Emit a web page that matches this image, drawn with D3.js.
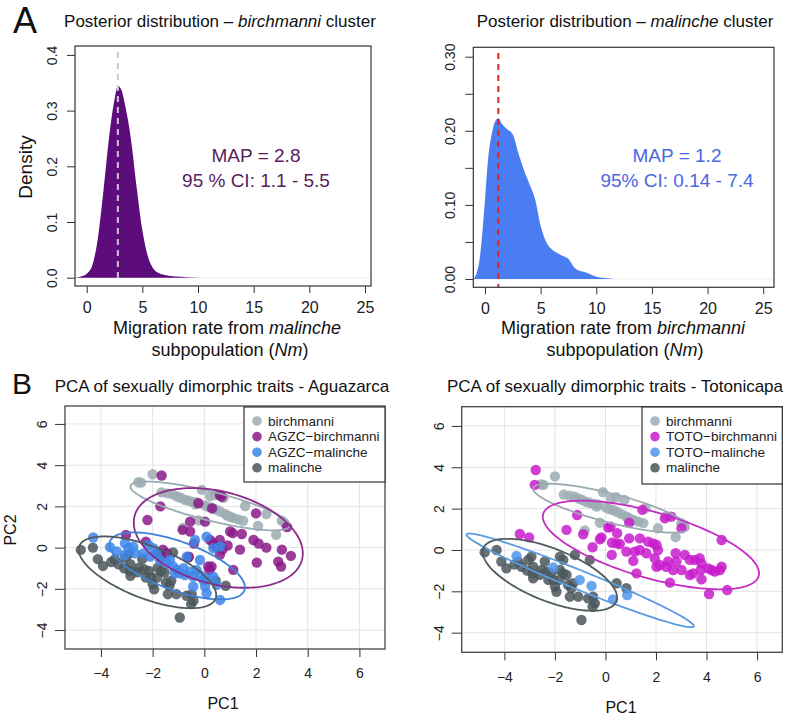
<!DOCTYPE html>
<html>
<head>
<meta charset="utf-8">
<script src="https://cdn.jsdelivr.net/npm/d3@7"></script>
<style>
  body { margin: 0; background: #fff; }
  svg { display: block; font-family: "Liberation Sans", Arial, Helvetica, sans-serif; }
</style>
</head>
<body>
<svg id="fig" width="793" height="715"></svg>
<script>
// posterior densities
var densBirchX = [-1, -0.5, 0, 0.5, 1, 1.5, 2, 2.5, 2.8, 3.1, 3.5, 4, 4.5, 5, 5.5, 6, 6.5, 7, 8, 9, 10.2];
var densBirchY = [0, 0.002, 0.007, 0.022, 0.07, 0.155, 0.25, 0.32, 0.344, 0.338, 0.305, 0.245, 0.16, 0.085, 0.038, 0.016, 0.008, 0.005, 0.002, 0.001, 0];
var densMalX = [-1, -0.75, -0.5, -0.25, 0, 0.3, 0.6, 1.0, 1.2, 1.5, 2, 2.5, 3, 3.5, 4, 4.5, 5, 5.5, 6, 6.5, 7, 7.5, 8, 8.5, 9, 9.5, 10, 11, 11.5];
var densMalY = [0, 0.008, 0.025, 0.06, 0.107, 0.165, 0.195, 0.215, 0.217, 0.21, 0.202, 0.195, 0.17, 0.147, 0.128, 0.108, 0.072, 0.05, 0.04, 0.035, 0.031, 0.027, 0.016, 0.011, 0.009, 0.006, 0.003, 0.001, 0];
var mapBirch = 2.8, mapMal = 1.2;

// PCA scores
var birchmanni = [[-2.0,3.56],[-2.55,3.17],[-2.45,3.15],[-1.65,2.68],[-1.42,2.63],[-1.22,2.58],[-1.05,2.48],[-0.92,2.42],[-0.75,2.32],[-0.6,2.27],[-0.45,2.22],[-0.3,2.2],[-0.1,2.8],[0.22,2.5],[0.42,2.55],[0.75,2.42],[0.02,2.05],[0.15,1.98],[0.3,1.93],[0.45,1.85],[0.62,1.74],[0.82,1.62],[1.0,1.5],[1.12,1.44],[1.3,1.37],[1.5,1.3],[1.58,2.02],[-0.22,1.32],[-0.82,0.95],[2.08,1.05],[2.4,1.63],[2.78,0.62],[3.0,1.3],[3.1,1.2],[-0.35,2.1],[0.9,1.55]];
var malinche = [[-4.78,-0.11],[-4.31,0.0],[-4.12,-0.56],[-3.92,-0.89],[-3.46,-0.56],[-3.32,-0.81],[-3.06,-0.48],[-2.93,-0.32],[-2.86,-0.81],[-2.89,-1.13],[-2.86,-1.37],[-2.53,-0.97],[-2.4,-0.56],[-2.33,-1.05],[-2.14,-1.13],[-2.07,-1.45],[-2.0,-1.77],[-1.94,-2.02],[-1.8,-0.32],[-1.67,-0.48],[-1.8,-0.97],[-1.67,-1.13],[-1.83,-1.45],[-1.54,-1.21],[-1.48,-1.69],[-1.35,-1.85],[-1.28,-1.61],[-1.41,-2.26],[-1.08,-2.26],[-1.21,-0.24],[-0.62,-0.48],[-0.69,-2.34],[-0.49,-2.26],[-0.42,-2.58],[-0.51,-2.74],[-0.95,-3.39],[0.44,-1.61],[0.83,-1.85],[-2.26,-1.45],[-2.6,-1.2],[-3.6,-0.7],[-3.1,-1.0]];
var agzcBirch = [[-1.65,3.5],[-1.7,2.0],[-2.2,1.34],[-3.03,0.61],[-2.26,0.29],[-0.55,1.26],[-0.55,0.78],[-0.84,0.86],[-0.23,2.15],[0.03,1.26],[0.3,1.9],[0.6,2.55],[0.67,2.47],[1.0,0.78],[1.1,0.7],[1.45,0.66],[2.0,1.66],[1.9,0.37],[2.1,0.2],[2.4,0.0],[3.2,1.0],[3.0,-0.1],[3.35,-0.4],[2.86,-0.68],[2.97,-0.92],[2.03,-0.73],[1.38,-0.1],[0.9,0.1],[0.6,0.37],[0.45,0.05],[0.6,-0.35],[0.35,0.2],[0.22,0.37],[1.12,-1.08],[0.15,-0.92],[0.28,-0.92],[-1.6,-0.1],[-1.45,-0.27],[-0.6,-0.44],[-0.4,0.2],[0.7,-0.1],[0.2,-1.1]];
var agzcMal = [[-4.3,0.49],[-3.65,0.02],[-3.39,-0.19],[-3.07,0.21],[-2.94,-0.03],[-2.75,0.05],[-2.68,-0.28],[-3.07,-0.36],[-2.36,-0.28],[-2.17,0.13],[-1.97,-0.03],[-2.1,-0.44],[-1.85,-0.28],[-1.72,-0.6],[-1.46,-0.76],[-1.2,-0.92],[-1.07,-1.08],[-0.94,-1.25],[-0.81,-1.0],[-0.75,-1.33],[-0.55,-1.17],[-0.43,-1.41],[-0.3,-1.08],[-0.17,-1.33],[-0.04,-1.57],[0.09,-1.49],[0.35,-1.41],[0.48,-1.81],[0.03,-1.89],[-0.43,-1.89],[0.09,-2.22],[0.61,-2.54],[-0.36,0.37],[0.09,0.53],[0.35,-0.03],[0.61,0.05],[-0.17,-0.6],[-0.68,-0.44],[-1.33,-0.6],[-1.14,-1.25]];
var totoBirch = [[-2.76,3.87],[-2.8,3.15],[-3.39,0.77],[-3.02,0.61],[-1.12,1.69],[-1.54,0.97],[-0.88,0.76],[-0.22,0.52],[-0.16,0.61],[-0.51,0.13],[0.11,1.08],[0.2,1.13],[0.26,0.35],[0.44,0.32],[0.57,0.29],[0.46,0.81],[0.94,0.56],[0.94,1.32],[0.25,-0.24],[0.83,-0.08],[1.16,-0.08],[1.36,0.56],[1.46,1.94],[1.69,0.4],[1.89,0.32],[2.02,0.24],[1.1,-0.53],[1.23,-1.13],[1.95,-0.4],[2.02,-0.81],[2.15,-0.73],[2.08,0.0],[2.35,1.53],[2.61,1.61],[2.48,-0.56],[2.41,-0.81],[2.68,-0.97],[2.81,-0.56],[2.55,-1.58],[2.78,-0.16],[3.14,-0.24],[3.01,1.05],[3.01,-0.97],[3.34,-0.48],[3.54,-0.48],[3.47,-1.13],[3.34,-1.21],[3.73,-0.4],[3.8,-0.65],[3.77,-0.97],[3.8,-1.42],[4.06,-0.89],[4.2,-0.97],[4.33,-1.05],[4.53,-0.97],[4.6,-0.81],[4.1,-2.13],[4.82,-1.94],[4.6,0.48],[1.36,0.0],[1.62,-0.16]];
var totoMal = [[-3.52,-0.29],[-2.07,-0.85],[-1.02,-1.45],[-0.55,-1.74],[0.3,-2.39],[0.86,-2.18]];

// ellipses: centre, right-most point, half vertical chord through centre
var ellBirch = [0.22, 2.02, 3.3, 1.08, 0.72];
var ellMal = [-2.2, -1.2, 0.46, -2.3, 1.35];
var ellAgzcBirch = [0.54, 0.47, 3.81, -0.28, 2.3];
var ellAgzcMal = [-1.05, -0.89, 1.57, -1.93, 1.25];
var ellTotoBirch = [1.8, 0.24, 6.08, -1.13, 1.65];
var ellTotoMal = [-1.0, -1.47, 3.5, -3.68, 0.5];

var pcaTicks = [-4, -2, 0, 2, 4, 6];

var svg = d3.select('#fig');

function txt(x, y, size, s, anchor) {
    return svg.append('text').attr('x', x).attr('y', y)
        .attr('font-size', size).attr('text-anchor', anchor || 'middle')
        .attr('fill', '#111').text(s);
}

function mixed(x, y, size, parts, anchor, color) {
    var t = svg.append('text').attr('x', x).attr('y', y)
        .attr('font-size', size).attr('text-anchor', anchor || 'middle')
        .attr('fill', color || '#111');
    parts.forEach(function (p) {
        t.append('tspan').attr('font-style', p[1] ? 'italic' : null).text(p[0]);
    });
    return t;
}

function styleY(g, off, size) {
    g.select('.domain').remove();
    g.selectAll('line').attr('stroke', '#333');
    g.selectAll('text')
        .attr('x', 0).attr('dy', null)
        .attr('text-anchor', 'middle')
        .attr('dominant-baseline', 'central')
        .attr('transform', 'translate(' + (-off) + ',0) rotate(-90)')
        .attr('font-size', size).attr('fill', '#222');
}

function styleX(g, yOff, size) {
    g.select('.domain').remove();
    g.selectAll('line').attr('stroke', '#333');
    g.selectAll('text').attr('y', yOff).attr('dy', null)
        .attr('dominant-baseline', 'central')
        .attr('font-size', size).attr('fill', '#222');
}

// ---------- panel A ----------
function densityPanel(o) {
    var x = d3.scaleLinear().domain(o.xd).range([o.l, o.r]),
        y = d3.scaleLinear().domain(o.yd).range([o.b, o.t]);

    var pts = o.dx.map(function (d, i) { return [d, o.dy[i]]; });

    svg.append('line')
        .attr('x1', x(o.xd[0])).attr('x2', x(o.xd[1]))
        .attr('y1', y(0)).attr('y2', y(0))
        .attr('stroke', '#eeeeee').attr('stroke-width', 1);

    svg.append('path')
        .datum(pts)
        .attr('fill', o.fill)
        .attr('d', d3.area().curve(d3.curveMonotoneX)
            .x(function (d) { return x(d[0]); })
            .y0(y(0))
            .y1(function (d) { return y(d[1]); }));

    svg.append('line')
        .attr('x1', x(o.map)).attr('x2', x(o.map))
        .attr('y1', o.dashTop).attr('y2', o.dashBot)
        .attr('stroke', o.dashColor).attr('stroke-width', 2)
        .attr('stroke-dasharray', '6,5');

    svg.append('rect')
        .attr('x', o.l).attr('y', o.t).attr('width', o.r - o.l).attr('height', o.b - o.t)
        .attr('fill', 'none').attr('stroke', '#333').attr('stroke-width', 1.2);

    svg.append('g').attr('transform', 'translate(0,' + o.b + ')')
        .call(d3.axisBottom(x).tickValues([0, 5, 10, 15, 20, 25]).tickSize(7))
        .call(styleX, 21, 16);

    svg.append('g').attr('transform', 'translate(' + o.l + ',0)')
        .call(d3.axisLeft(y).tickValues(o.yt).tickSize(8)
            .tickFormat(function (d) {
                return o.yl.indexOf(d) >= 0 ? d3.format(o.fmt)(d) : '';
            }))
        .call(styleY, 23, 14);

    o.notes.forEach(function (n, i) {
        txt(o.noteX, o.noteY + i * 25, 19, n).attr('fill', o.noteColor);
    });
}

densityPanel({
    l: 75, r: 371, t: 46, b: 286,
    xd: [-1.05, 25.54], yd: [-0.0149, 0.416],
    dx: densBirchX, dy: densBirchY, fill: '#5d0c7c',
    map: mapBirch, dashColor: '#c9c9c9', dashTop: 52, dashBot: 278,
    yt: [0, 0.1, 0.2, 0.3, 0.4], yl: [0, 0.1, 0.2, 0.3, 0.4], fmt: '.1f',
    notes: ['MAP = 2.8', '95 % CI: 1.1 - 5.5'], noteX: 256, noteY: 162, noteColor: '#5a1d5e'
});

densityPanel({
    l: 473.3, r: 774, t: 47.3, b: 287.3,
    xd: [-1.05, 25.97], yd: [-0.0112, 0.3127],
    dx: densMalX, dy: densMalY, fill: '#4a7cf2',
    map: mapMal, dashColor: '#d42828', dashTop: 53, dashBot: 287,
    yt: [0, 0.05, 0.1, 0.15, 0.2, 0.25, 0.3], yl: [0, 0.1, 0.2, 0.3], fmt: '.2f',
    notes: ['MAP = 1.2', '95% CI: 0.14 - 7.4'], noteX: 677, noteY: 162, noteColor: '#4a68e0'
});

txt(13, 33, 36, 'A', 'start');
mixed(220, 27, 17, [['Posterior distribution \u2013 '], ['birchmanni', true], [' cluster']]);
mixed(625, 27, 17, [['Posterior distribution \u2013 '], ['malinche', true], [' cluster']]);
txt(25, 167, 19, 'Density').attr('transform', 'rotate(-90,25,167)').attr('dominant-baseline', 'central');
mixed(227, 334, 18, [['Migration rate from '], ['malinche', true]]);
mixed(230, 356, 18, [['subpopulation ('], ['Nm', true], [')']]);
mixed(623, 334, 18, [['Migration rate from '], ['birchmanni', true]]);
mixed(625, 356, 18, [['subpopulation ('], ['Nm', true], [')']]);

// ---------- panel B ----------
var colors = {
    birch: '#9cadb3', mal: '#4b575b',
    agzcBirch: '#8a1a88', agzcMal: '#3d86ea',
    totoBirch: '#c81ccc', totoMal: '#4f96ec'
};
var ellColors = {
    birch: '#9aabb2', mal: '#4f5b5f',
    agzcBirch: '#8c2a8c', agzcMal: '#3f80d8',
    totoBirch: '#c42cc6', totoMal: '#5a9be2'
};

function pcaPanel(o) {
    var x = d3.scaleLinear().domain(o.xd).range([o.l, o.r]),
        y = d3.scaleLinear().domain(o.yd).range([o.b, o.t]);

    var grid = svg.append('g').attr('stroke', '#e4e4e4').attr('stroke-width', 1);
    pcaTicks.forEach(function (t) {
        grid.append('line').attr('x1', x(t)).attr('x2', x(t)).attr('y1', o.t).attr('y2', o.b);
        grid.append('line').attr('x1', o.l).attr('x2', o.r).attr('y1', y(t)).attr('y2', y(t));
    });

    var clip = 'clip' + o.id;
    svg.append('clipPath').attr('id', clip).append('rect')
        .attr('x', o.l).attr('y', o.t).attr('width', o.r - o.l).attr('height', o.b - o.t);
    var plot = svg.append('g').attr('clip-path', 'url(#' + clip + ')');

    o.groups.forEach(function (g) {
        plot.append('g').selectAll('circle').data(g.data).enter().append('circle')
            .attr('cx', function (d) { return x(d[0]); })
            .attr('cy', function (d) { return y(d[1]); })
            .attr('r', 5.2)
            .attr('fill', colors[g.key]).attr('fill-opacity', 0.85);
    });

    var line = d3.line().curve(d3.curveLinearClosed)
        .x(function (d) { return x(d[0]); })
        .y(function (d) { return y(d[1]); });
    o.ellipses.forEach(function (e) {
        var p = e.par, ring = d3.range(0, 2 * Math.PI, Math.PI / 90).map(function (t) {
            return [p[0] + (p[2] - p[0]) * Math.cos(t),
                    p[1] + (p[3] - p[1]) * Math.cos(t) + p[4] * Math.sin(t)];
        });
        plot.append('path').datum(ring).attr('d', line)
            .attr('fill', 'none').attr('stroke', ellColors[e.key]).attr('stroke-width', 1.8);
    });

    svg.append('rect')
        .attr('x', o.l).attr('y', o.t).attr('width', o.r - o.l).attr('height', o.b - o.t)
        .attr('fill', 'none').attr('stroke', '#444').attr('stroke-width', 1.3);

    svg.append('g').attr('transform', 'translate(0,' + o.b + ')')
        .call(d3.axisBottom(x).tickValues(pcaTicks).tickSize(8))
        .call(styleX, o.xlab, 14);
    svg.append('g').attr('transform', 'translate(' + o.l + ',0)')
        .call(d3.axisLeft(y).tickValues(pcaTicks).tickSize(10))
        .call(styleY, 23, 14);

    // legend
    var lg = svg.append('g');
    lg.append('rect').attr('x', o.lg[0]).attr('y', o.lg[1])
        .attr('width', o.r - o.lg[0]).attr('height', o.lg[2])
        .attr('fill', '#fff').attr('stroke', '#333').attr('stroke-width', 1.2);
    o.groups.slice().sort(function (a, b) { return a.order - b.order; }).forEach(function (g, i) {
        var yy = o.lg[1] + 14 + i * 15.6;
        lg.append('circle').attr('cx', o.lg[0] + 13).attr('cy', yy).attr('r', 4.8)
            .attr('fill', colors[g.key]).attr('fill-opacity', 0.85);
        lg.append('text').attr('x', o.lg[0] + 24).attr('y', yy)
            .attr('dominant-baseline', 'central').attr('font-size', 13.5)
            .attr('fill', '#222').text(g.name);
    });
}

pcaPanel({
    id: 'L', l: 65, r: 385, t: 406, b: 649,
    xd: [-5.39, 6.99], yd: [-4.92, 6.87], xlab: 24,
    groups: [
        { key: 'mal', name: 'malinche', data: malinche, order: 3 },
        { key: 'birch', name: 'birchmanni', data: birchmanni, order: 0 },
        { key: 'agzcBirch', name: 'AGZC\u2212birchmanni', data: agzcBirch, order: 1 },
        { key: 'agzcMal', name: 'AGZC\u2212malinche', data: agzcMal, order: 2 }
    ],
    ellipses: [
        { key: 'birch', par: ellBirch }, { key: 'agzcBirch', par: ellAgzcBirch },
        { key: 'agzcMal', par: ellAgzcMal }, { key: 'mal', par: ellMal }
    ],
    lg: [244, 407, 75]
});

pcaPanel({
    id: 'R', l: 461.7, r: 782.3, t: 406.7, b: 652.3,
    xd: [-5.69, 7.0], yd: [-4.95, 6.93], xlab: 25,
    groups: [
        { key: 'mal', name: 'malinche', data: malinche, order: 3 },
        { key: 'birch', name: 'birchmanni', data: birchmanni, order: 0 },
        { key: 'totoBirch', name: 'TOTO\u2212birchmanni', data: totoBirch, order: 1 },
        { key: 'totoMal', name: 'TOTO\u2212malinche', data: totoMal, order: 2 }
    ],
    ellipses: [
        { key: 'birch', par: ellBirch }, { key: 'totoBirch', par: ellTotoBirch },
        { key: 'totoMal', par: ellTotoMal }, { key: 'mal', par: ellMal }
    ],
    lg: [642, 407, 77]
});

txt(12, 394, 30, 'B', 'start');
txt(222, 392, 17, 'PCA of sexually dimorphic traits - Aguazarca');
txt(615, 392, 17, 'PCA of sexually dimorphic traits - Totonicapa');
txt(223, 709, 16, 'PC1');
txt(621, 713, 16, 'PC1');
txt(10, 530, 16, 'PC2').attr('transform', 'rotate(-90,10,530)').attr('dominant-baseline', 'central');
</script>
</body>
</html>
